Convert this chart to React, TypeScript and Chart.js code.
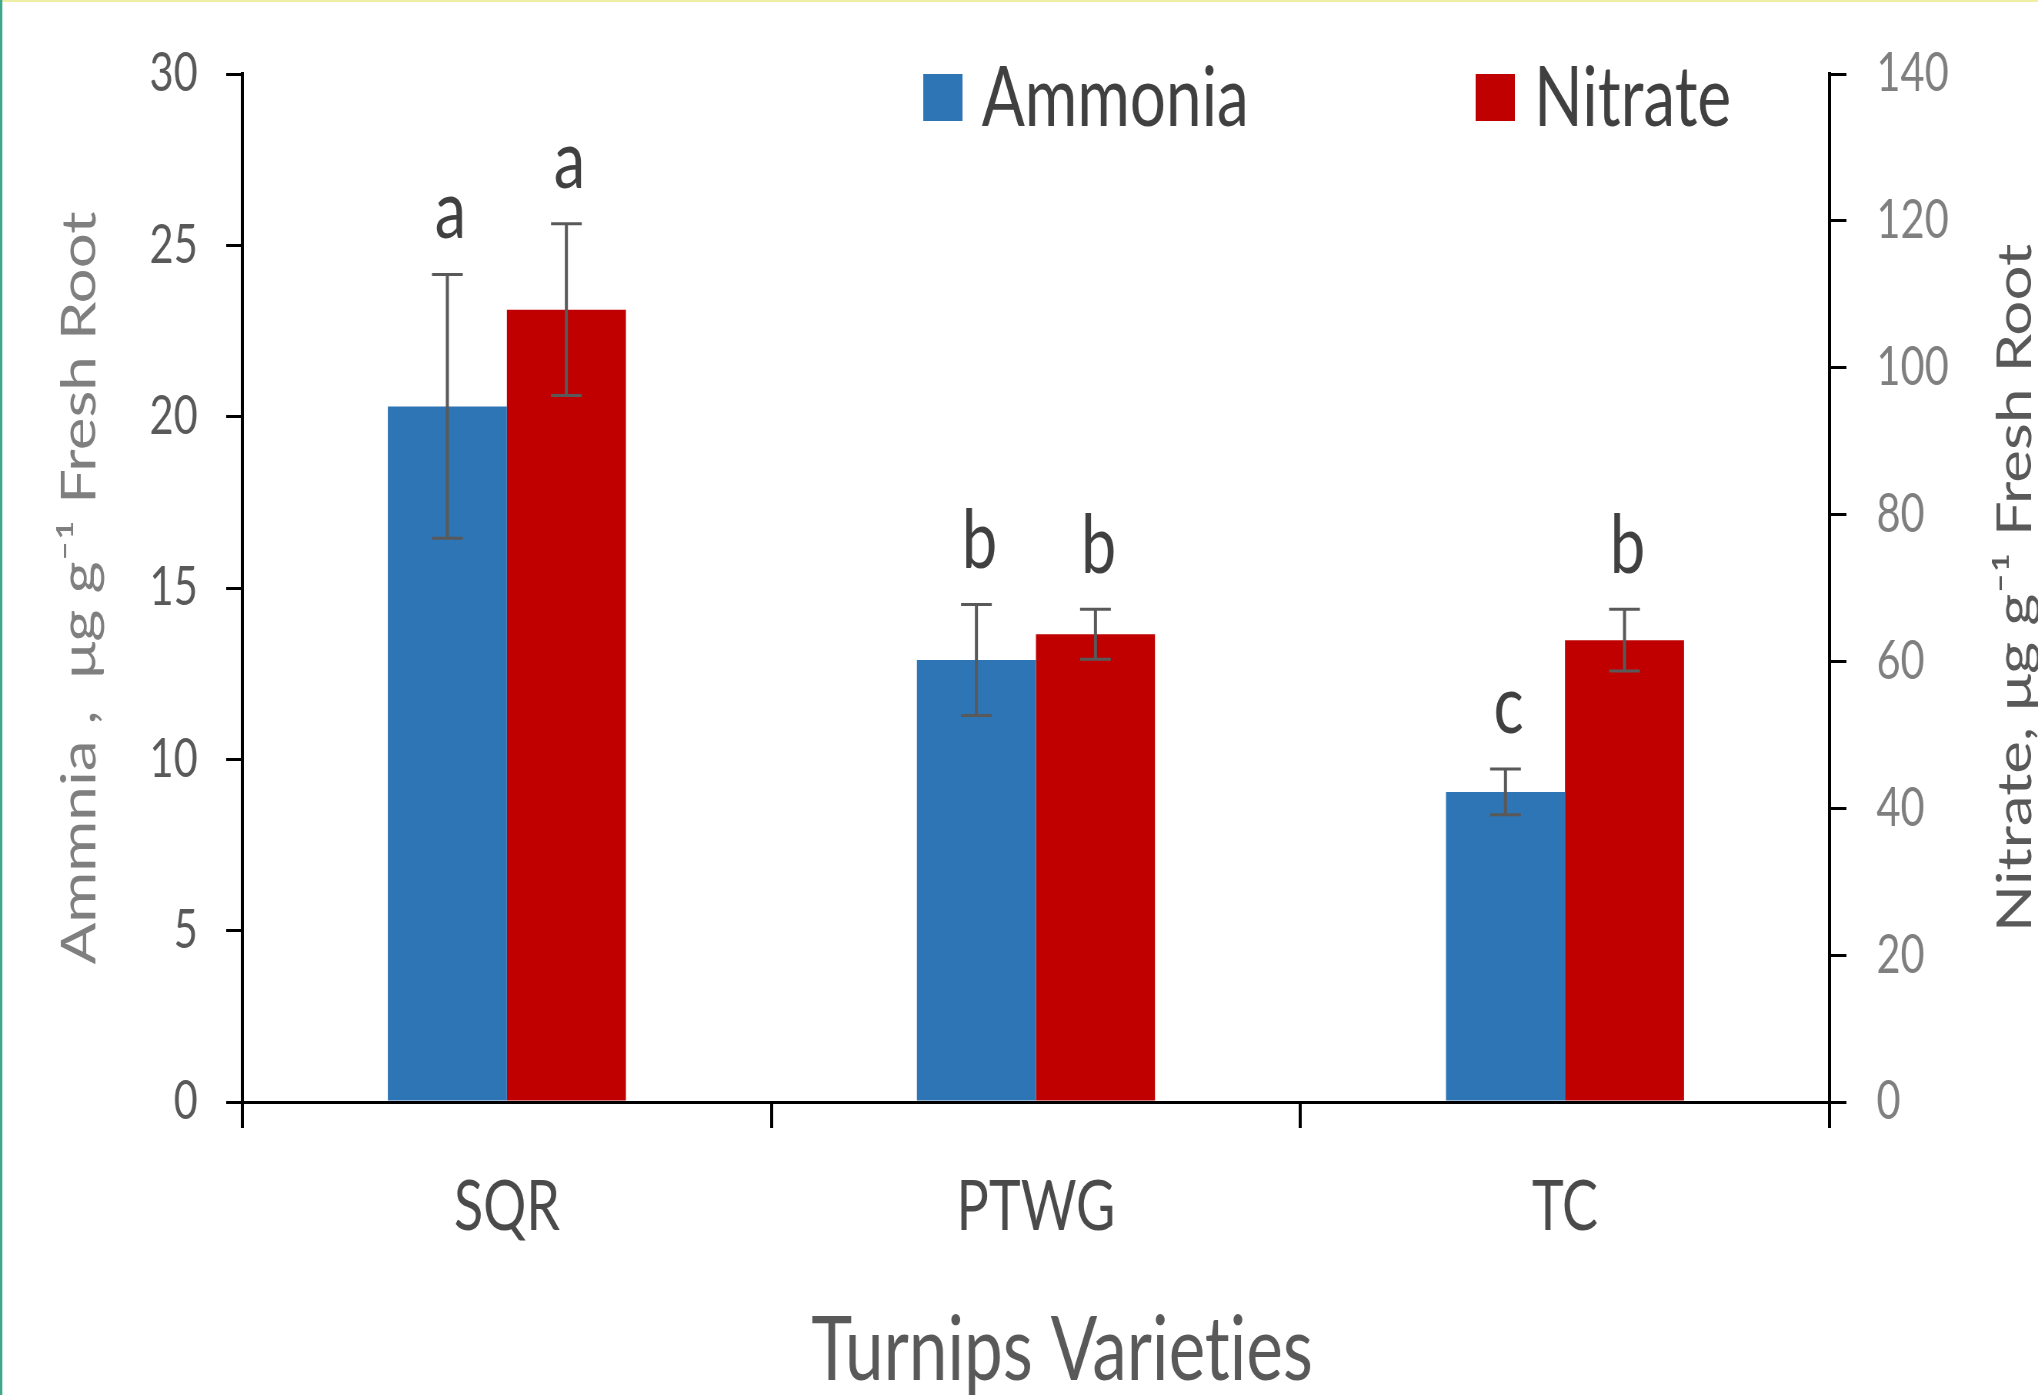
import React, { useEffect, useRef } from 'react';
import { Chart, registerables } from 'chart.js';

Chart.register(...registerables);

// ---- data ----
const categories = ['SQR', 'PTWG', 'TC'];
const ammonia = [20.3, 12.9, 9.05];
const ammoniaErr = [3.85, 1.62, 0.67];
const nitrate = [107.9, 63.7, 62.9];
const nitrateErr = [11.7, 3.4, 4.2];
const ammoniaLetters = ['a', 'b', 'c'];
const nitrateLetters = ['a', 'b', 'b'];
const seriesLabels = ['Ammonia', 'Nitrate'];
const leftAxisRange = [0, 30, 5];
const rightAxisRange = [0, 140, 20];
const leftTitle = 'Ammnia ,  μg g⁻¹ Fresh Root';
const rightTitle = 'Nitrate, μg g⁻¹ Fresh Root';
const xTitle = 'Turnips Varieties';

// ---- geometry (canvas drawn wider, then compressed horizontally) ----
const W = 2038;
const H = 1395;
const SX = 1.3;
const IW = Math.round(W * SX);
const FONT = 'Lato, "Open Sans", "DejaVu Sans", sans-serif';

const errorsBySeries = [ammoniaErr, nitrateErr];
const lettersBySeries = [ammoniaLetters, nitrateLetters];

const annotatePlugin = {
  id: 'annotate',
  beforeDraw(chart: any) {
    const ctx = chart.ctx;
    ctx.save();
    ctx.fillStyle = '#eeeea4';
    ctx.fillRect(0, 0, chart.width, 2);
    ctx.fillStyle = '#3fa88c';
    ctx.fillRect(0, 0, 3, chart.height);
    ctx.restore();
    // plain glyphs, no ligatures (e.g. "ti")
    try {
      ctx.textRendering = 'optimizeSpeed';
    } catch (e) {
      /* ignore */
    }
  },
  afterDatasetsDraw(chart: any) {
    const ctx = chart.ctx;
    ctx.save();
    chart.data.datasets.forEach((ds: any, di: number) => {
      const meta = chart.getDatasetMeta(di);
      const scale = chart.scales[ds.yAxisID];
      meta.data.forEach((bar: any, i: number) => {
        const v = ds.data[i];
        const e = errorsBySeries[di][i];
        const x = bar.x;
        const yTop = scale.getPixelForValue(v + e);
        const yBot = scale.getPixelForValue(v - e);
        ctx.strokeStyle = '#595959';
        ctx.lineWidth = 4;
        ctx.beginPath();
        ctx.moveTo(x, yTop);
        ctx.lineTo(x, yBot);
        ctx.stroke();
        ctx.lineWidth = 3;
        ctx.beginPath();
        ctx.moveTo(x - 20, yTop);
        ctx.lineTo(x + 20, yTop);
        ctx.moveTo(x - 20, yBot);
        ctx.lineTo(x + 20, yBot);
        ctx.stroke();
        ctx.fillStyle = '#404040';
        ctx.font = `82px ${FONT}`;
        ctx.textAlign = 'center';
        ctx.textBaseline = 'alphabetic';
        ctx.fillText(lettersBySeries[di][i], x + 4, yTop - 36);
      });
    });
    ctx.restore();
  },
  afterDraw(chart: any) {
    const ctx = chart.ctx;
    ctx.save();
    // legend
    const items = [
      { box: 1200, text: 1276 },
      { box: 1918, text: 1994 },
    ];
    chart.data.datasets.forEach((ds: any, di: number) => {
      const it = items[di];
      ctx.fillStyle = ds.backgroundColor;
      ctx.fillRect(it.box, 74, 51, 47);
      ctx.fillStyle = '#404040';
      ctx.font = `83px ${FONT}`;
      ctx.textAlign = 'left';
      ctx.textBaseline = 'alphabetic';
      ctx.fillText(ds.label, it.text, 126);
    });
    // x axis title
    const xs = chart.scales.x;
    ctx.fillStyle = '#595959';
    ctx.font = `90px ${FONT}`;
    ctx.textAlign = 'center';
    ctx.textBaseline = 'middle';
    ctx.fillText(xTitle, (xs.left + xs.right) / 2 + 34, 1351);
    // right axis title (reads bottom to top)
    const y1 = chart.scales.y1;
    ctx.translate(2620, (y1.top + y1.bottom) / 2);
    ctx.rotate(-Math.PI / 2);
    ctx.fillStyle = '#595959';
    ctx.font = `62px ${FONT}`;
    ctx.textAlign = 'center';
    ctx.textBaseline = 'middle';
    ctx.fillText(rightTitle, 0, 0);
    ctx.restore();
  },
};

export default function App() {
  const ref = useRef<HTMLCanvasElement | null>(null);

  useEffect(() => {
    document.body.style.margin = '0';
    const canvas = ref.current;
    if (!canvas) return;
    const chart = new Chart(canvas, {
      type: 'bar',
      data: {
        labels: categories,
        datasets: [
          {
            label: seriesLabels[0],
            data: ammonia,
            yAxisID: 'y',
            backgroundColor: '#2E75B6',
            borderWidth: 0,
            categoryPercentage: 0.45,
            barPercentage: 1.0,
          },
          {
            label: seriesLabels[1],
            data: nitrate,
            yAxisID: 'y1',
            backgroundColor: '#C00000',
            borderWidth: 0,
            categoryPercentage: 0.45,
            barPercentage: 1.0,
          },
        ],
      },
      plugins: [annotatePlugin],
      options: {
        responsive: false,
        maintainAspectRatio: false,
        animation: false,
        devicePixelRatio: 1,
        layout: { padding: { top: 74, left: 0, right: 0, bottom: 0 } },
        plugins: {
          legend: { display: false },
          tooltip: { enabled: false },
        },
        scales: {
          x: {
            grid: {
              display: true,
              drawOnChartArea: false,
              drawTicks: true,
              tickLength: 26,
              lineWidth: 4,
              color: '#000',
              offset: true,
            },
            border: { display: true, color: '#000', width: 3 },
            ticks: {
              color: '#4a4a4a',
              font: { family: FONT, size: 70 },
              padding: 37,
              maxRotation: 0,
            },
            afterFit: (s: any) => {
              s.height = 293;
            },
          },
          y: {
            position: 'left',
            min: leftAxisRange[0],
            max: leftAxisRange[1],
            grid: {
              drawOnChartArea: false,
              drawTicks: true,
              tickLength: 21,
              lineWidth: 3,
              color: '#000',
            },
            border: { display: true, color: '#000', width: 4 },
            ticks: {
              stepSize: leftAxisRange[2],
              color: '#595959',
              font: { family: FONT, size: 54 },
              padding: 37,
            },
            title: {
              display: true,
              text: leftTitle,
              color: '#7f7f7f',
              font: { family: FONT, size: 62, lineHeight: 1 },
              padding: { top: 73, bottom: 0 },
            },
            afterFit: (s: any) => {
              s.width = 315;
            },
          },
          y1: {
            position: 'right',
            min: rightAxisRange[0],
            max: rightAxisRange[1],
            grid: {
              drawOnChartArea: false,
              drawTicks: true,
              tickLength: 22,
              lineWidth: 3,
              color: '#000',
            },
            border: { display: true, color: '#000', width: 4 },
            ticks: {
              stepSize: rightAxisRange[2],
              color: '#7f7f7f',
              font: { family: FONT, size: 54 },
              padding: 39,
            },
            afterFit: (s: any) => {
              s.width = IW - Math.round(1829 * SX);
            },
          },
        },
      },
    });
    return () => chart.destroy();
  }, []);

  return (
    <div>
      <canvas
        ref={ref}
        width={IW}
        height={H}
        style={{ width: `${W}px`, height: `${H}px`, display: 'block' }}
      />
    </div>
  );
}
